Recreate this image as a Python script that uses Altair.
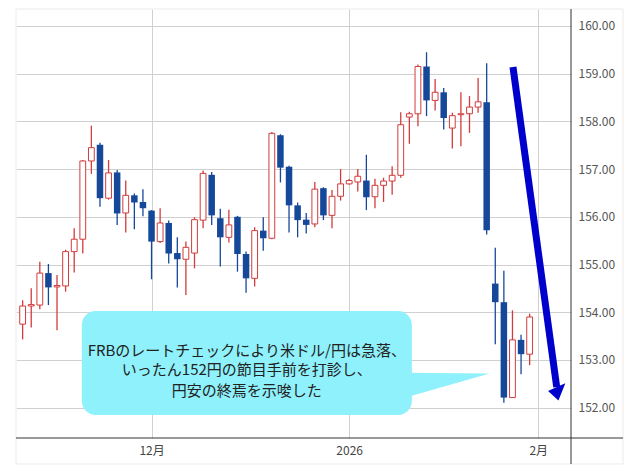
import altair as alt
import pandas as pd

# ---- data (USD/JPY daily candles, trading-day index) ----
idx = list(range(60))
opens = [153.75, 154.13, 154.15, 154.82, 154.53, 154.55, 155.27, 155.53, 157.17, 157.51,
         156.39, 156.93, 156.08, 156.45, 156.31, 156.13, 155.48, 155.87, 155.24, 155.11,
         155.24, 155.93, 156.88, 155.97, 155.57, 156.00, 155.22, 154.71, 155.71, 155.55,
         157.71, 157.05, 156.24, 155.94, 155.85, 156.60, 156.03, 156.43, 156.69, 156.73,
         156.76, 156.42, 156.66, 156.75, 156.87, 158.09, 158.16, 159.15, 158.44, 158.61,
         157.86, 158.14, 158.16, 158.30, 158.40, 154.60, 154.21, 152.21, 153.42, 153.12]
highs = [154.25, 154.50, 155.06, 155.01, 154.78, 155.31, 155.76, 157.19, 157.91, 157.55,
         157.19, 156.98, 156.76, 156.49, 156.58, 156.14, 156.18, 155.92, 155.57, 155.48,
         155.99, 156.97, 156.94, 156.17, 156.15, 156.02, 155.27, 155.78, 155.99, 157.78,
         157.73, 157.07, 156.30, 156.08, 156.73, 156.62, 156.56, 157.00, 156.79, 157.00,
         157.30, 156.80, 156.82, 157.06, 158.19, 158.20, 159.19, 159.45, 158.89, 158.70,
         158.18, 158.61, 158.53, 158.91, 159.22, 155.35, 154.87, 154.04, 153.53, 153.97]
lows = [153.43, 153.68, 154.06, 154.15, 153.62, 154.43, 154.83, 155.23, 156.90, 156.21,
        156.36, 155.83, 155.67, 155.74, 156.01, 154.69, 155.45, 155.02, 154.52, 154.36,
        154.92, 155.76, 155.83, 154.96, 155.46, 154.85, 154.41, 154.54, 155.29, 155.53,
        156.72, 155.67, 155.57, 155.65, 155.78, 155.93, 155.76, 156.34, 156.67, 156.53,
        156.14, 156.18, 156.31, 156.46, 156.82, 157.53, 157.90, 158.11, 158.23, 157.83,
        157.43, 157.48, 157.76, 158.18, 155.63, 153.33, 152.10, 152.21, 152.70, 152.89]
closes = [154.13, 154.16, 154.82, 154.52, 154.56, 155.27, 155.53, 157.17, 157.45, 156.39,
          156.92, 156.07, 156.45, 156.30, 156.18, 155.48, 155.87, 155.23, 155.11, 155.36,
          155.94, 156.91, 156.03, 155.57, 155.83, 155.22, 154.71, 155.71, 155.55, 157.75,
          157.03, 156.24, 155.93, 155.83, 156.58, 156.03, 156.43, 156.69, 156.76, 156.85,
          156.41, 156.66, 156.75, 156.87, 157.93, 158.16, 159.15, 158.44, 158.61, 158.07,
          158.12, 158.16, 158.30, 158.41, 155.72, 154.21, 152.21, 153.42, 153.12, 153.90]

x_tick_values = [15, 38, 60]
x_tick_labels = ["12月", "2026", "2月"]
y_tick_values = [152, 153, 154, 155, 156, 157, 158, 159, 160]

callout_lines = ["FRBのレートチェックにより米ドル/円は急落、",
                 "いったん152円の節目手前を打診し、",
                 "円安の終焉を示唆した"]

# ---- annotation geometry (data units: trading-day index, price) ----
box = {"x1": [6.89], "x2": [45.29], "y1": [154.025], "y2": [151.845]}
pointer = {"px": [44.38, 54.32], "py": [152.731, 152.715], "py2": [152.201, 152.715]}
text_pos = {"tx": [26.09, 26.09, 26.09], "ty": [153.197, 152.778, 152.358]}
shaft = {"ax": [57.06], "ay": [159.14], "ax2": [62.15], "ay2": [152.43]}
head = {"hx": [61.14, 62.35, 63.15], "hy": [152.35, 152.446, 152.51], "hy2": [152.35, 152.15, 152.51]}

RED = "#d23c3c"
BLUE = "#16489a"
CYAN = "#8ef1fb"
ARROW = "#0000cc"
GRID = "#d0d0d0"
FONT = "Noto Sans CJK JP"

df = pd.DataFrame({"i": idx, "open": opens, "high": highs, "low": lows, "close": closes})
df["dir"] = ["up" if c >= o else "down" for o, c in zip(opens, closes)]

xs = alt.Scale(domain=[-0.19, 63.23], nice=False, zero=False)
ys = alt.Scale(domain=[151.363, 160.356], nice=False, zero=False)

label_expr = " : ".join(
    f"datum.value == {v} ? '{t}'" for v, t in zip(x_tick_values[:-1], x_tick_labels[:-1])
) + f" : '{x_tick_labels[-1]}'"

x_axis = alt.Axis(values=x_tick_values, labelExpr=label_expr, grid=True, gridColor=GRID,
                  domain=False, ticks=False, tickSize=0, labelPadding=7, labelFontSize=12,
                  labelColor="#444", labelFont=FONT, labelFlush=False, title=None)
y_axis = alt.Axis(orient="right", values=y_tick_values, format=".2f", grid=True, gridColor=GRID,
                  domain=False, ticks=False, tickSize=0, labelPadding=7, labelFontSize=12,
                  labelColor="#555", labelFont=FONT, labelAlign="left", labelFlush=False,
                  title=None)


def X(f):
    return alt.X(f, scale=xs, axis=x_axis)


def Y(f):
    return alt.Y(f, scale=ys, axis=y_axis)


one = pd.DataFrame({"a": [0]})

frame = alt.Chart(one).mark_rect(fillOpacity=0, stroke="#ebebeb", strokeWidth=1).encode(
    x=alt.value(0), x2=alt.value(607), y=alt.value(0), y2=alt.value(455))
right_line = alt.Chart(one).mark_rule(color="#333", strokeWidth=1).encode(
    x=alt.value(555), y=alt.value(0), y2=alt.value(455))
bottom_line = alt.Chart(one).mark_rule(color="#333", strokeWidth=1).encode(
    y=alt.value(429), x=alt.value(0), x2=alt.value(607))

base = alt.Chart(df)
wicks = base.mark_rule(strokeWidth=1.3, clip=True).encode(
    x=X("i:Q"), y=Y("low:Q"), y2="high:Q",
    color=alt.Color("dir:N", scale=alt.Scale(domain=["up", "down"], range=[RED, BLUE]), legend=None))
down_bodies = base.transform_filter(alt.datum.dir == "down").mark_bar(
    size=6.5, color=BLUE, clip=True).encode(x=X("i:Q"), y=Y("open:Q"), y2="close:Q")
up_bodies = base.transform_filter(alt.datum.dir == "up").mark_bar(
    size=5.8, fill="white", stroke=RED, strokeWidth=1, clip=True).encode(
    x=X("i:Q"), y=Y("open:Q"), y2="close:Q")

box_l = alt.Chart(pd.DataFrame(box)).mark_rect(cornerRadius=14, color=CYAN).encode(
    x=X("x1:Q"), x2="x2:Q", y=Y("y1:Q"), y2="y2:Q")
pointer_l = alt.Chart(pd.DataFrame(pointer)).mark_area(color=CYAN).encode(
    x=X("px:Q"), y=Y("py:Q"), y2="py2:Q")
text_df = pd.DataFrame(text_pos)
text_df["t"] = callout_lines
text_l = alt.Chart(text_df).mark_text(font=FONT, fontSize=15, color="#222", align="center",
                                      baseline="middle").encode(
    x=X("tx:Q"), y=Y("ty:Q"), text="t:N")

shaft_l = alt.Chart(pd.DataFrame(shaft)).mark_rule(color=ARROW, strokeWidth=7).encode(
    x=X("ax:Q"), y=Y("ay:Q"), x2="ax2:Q", y2="ay2:Q")
head_l = alt.Chart(pd.DataFrame(head)).mark_area(color=ARROW).encode(
    x=X("hx:Q"), y=Y("hy:Q"), y2="hy2:Q")

chart = alt.layer(
    frame, wicks, down_bodies, up_bodies, box_l, pointer_l, text_l,
    shaft_l, head_l, right_line, bottom_line
).properties(
    width=555, height=429,
    padding={"left": 7, "top": 0, "right": 5, "bottom": 0},
    background="white",
).configure_view(stroke=None)

chart.save("out.html", embed_options={"renderer": "svg", "actions": False})
